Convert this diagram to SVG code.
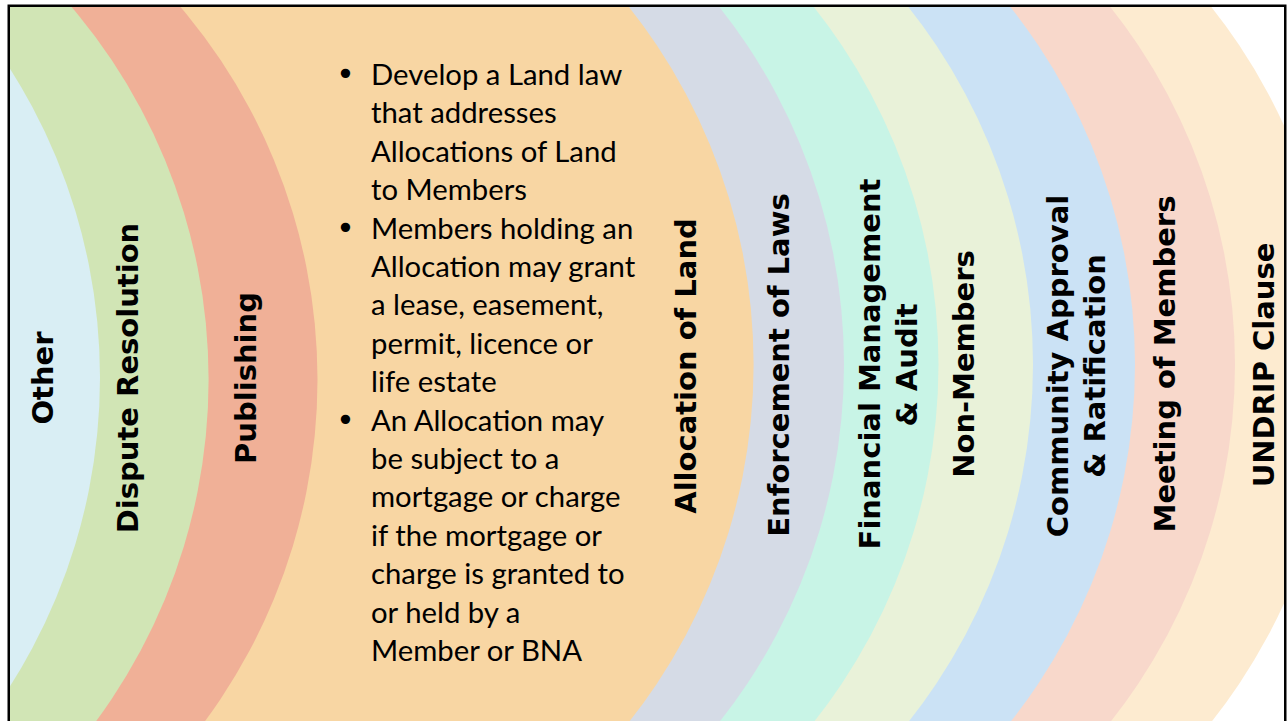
<svg xmlns="http://www.w3.org/2000/svg" width="1288" height="721" viewBox="0 0 1288 721">
<defs>
<clipPath id="frameClip"><rect x="10" y="7" width="1274" height="714"/></clipPath>
<style>
.lbl{font-family:"DejaVu Sans","Verdana",sans-serif;font-weight:bold;font-size:29px;fill:#000;text-anchor:middle}
.body{font-family:"Lato","Open Sans",sans-serif;font-size:29.3px;fill:#000}
.bul{font-family:"DejaVu Sans",sans-serif;font-size:32px;fill:#000}
</style>
</defs>
<rect x="0" y="0" width="1288" height="721" fill="#FFFFFF"/>
<g clip-path="url(#frameClip)">
<g id="undrip-clause">
<circle cx="761" cy="364.5" r="575" fill="#FDEBD0"/>
<text class="lbl" transform="translate(1274,365) rotate(-90)">UNDRIP Clause</text>
</g>
<g id="meeting-of-members">
<circle cx="660" cy="364.5" r="575" fill="#F8D8CB"/>
<text class="lbl" transform="translate(1175,364) rotate(-90)">Meeting of Members</text>
</g>
<g id="community-approval">
<circle cx="560" cy="364.5" r="575" fill="#CBE2F5"/>
<text class="lbl" transform="translate(1068,366) rotate(-90)">Community Approval</text>
<text class="lbl" transform="translate(1105,366) rotate(-90)">&amp; Ratification</text>
</g>
<g id="non-members">
<circle cx="458" cy="364.5" r="575" fill="#E9F2D9"/>
<text class="lbl" transform="translate(974,364) rotate(-90)">Non-Members</text>
</g>
<g id="financial-management">
<circle cx="363.5" cy="364.5" r="575" fill="#C8F4E6"/>
<text class="lbl" transform="translate(880,364) rotate(-90)">Financial Management</text>
<text class="lbl" transform="translate(916.5,365) rotate(-90)">&amp; Audit</text>
</g>
<g id="enforcement-of-laws">
<circle cx="269" cy="364.5" r="575" fill="#D5DBE6"/>
<text class="lbl" transform="translate(789,365) rotate(-90)">Enforcement of Laws</text>
</g>
<g id="allocation-of-land">
<circle cx="178.6" cy="364.5" r="575" fill="#F8D6A3"/>
<text class="lbl" transform="translate(696,366) rotate(-90)">Allocation of Land</text>
<g id="allocation-details">
<text class="bul" x="336" y="85">•</text>
<text class="bul" x="336" y="238.6">•</text>
<text class="bul" x="336" y="430.6">•</text>
<text class="body" x="371" y="85">Develop a Land law</text>
<text class="body" x="371" y="123.4">that addresses</text>
<text class="body" x="371" y="161.8">Allocations of Land</text>
<text class="body" x="371" y="200.2">to Members</text>
<text class="body" x="371" y="238.6">Members holding an</text>
<text class="body" x="371" y="277">Allocation may grant</text>
<text class="body" x="371" y="315.4">a lease, easement,</text>
<text class="body" x="371" y="353.8">permit, licence or</text>
<text class="body" x="371" y="392.2">life estate</text>
<text class="body" x="371" y="430.6">An Allocation may</text>
<text class="body" x="371" y="469">be subject to a</text>
<text class="body" x="371" y="507.4">mortgage or charge</text>
<text class="body" x="371" y="545.8">if the mortgage or</text>
<text class="body" x="371" y="584.2">charge is granted to</text>
<text class="body" x="371" y="622.6">or held by a</text>
<text class="body" x="371" y="661">Member or BNA</text>
</g>
</g>
<g id="publishing">
<circle cx="-257.5" cy="379.5" r="575" fill="#F0B097"/>
<text class="lbl" transform="translate(256,378) rotate(-90)">Publishing</text>
</g>
<g id="dispute-resolution">
<circle cx="-366.4" cy="379.5" r="575" fill="#D1E5B5"/>
<text class="lbl" transform="translate(138,378) rotate(-90)">Dispute Resolution</text>
</g>
<g id="other">
<circle cx="-475" cy="377.5" r="575" fill="#D9EEF4"/>
<text class="lbl" transform="translate(53,378) rotate(-90)">Other</text>
</g>
</g>
<g id="connectors"></g>
<rect id="frame" x="8.75" y="5.75" width="1276.5" height="730" fill="none" stroke="#000" stroke-width="2.5"/>
</svg>
